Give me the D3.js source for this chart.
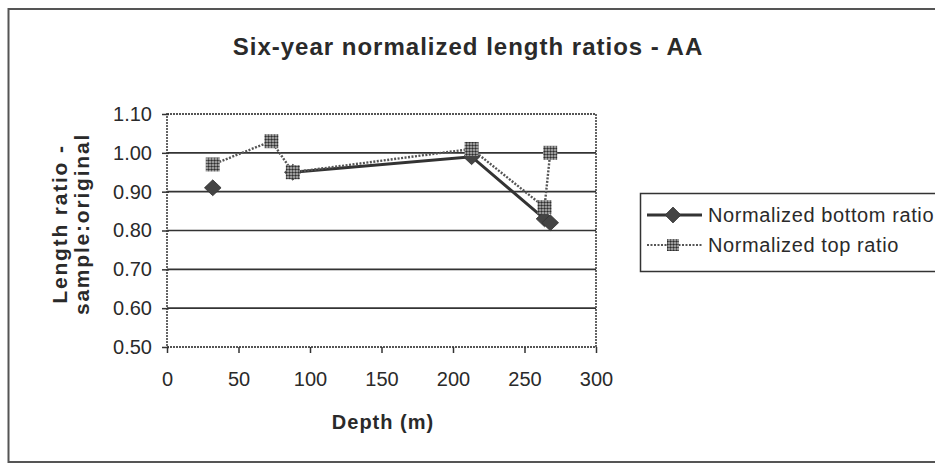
<!DOCTYPE html>
<html>
<head>
<meta charset="utf-8">
<script src="https://cdn.jsdelivr.net/npm/d3@7"></script>
<style>
  html, body { margin: 0; padding: 0; background: #fff; }
  svg { display: block; }
  text { font-family: Arial, "Liberation Sans", Helvetica, sans-serif; fill: #2a2a2a; }
</style>
</head>
<body>
<svg id="chart" width="935" height="466"></svg>
<script>
// ---- data ----
const depths = [32, 73, 88, 213, 264, 268];
const bottomRatio = [0.91, null, 0.95, 0.99, 0.83, 0.82];
const topRatio = [0.97, 1.03, 0.95, 1.01, 0.86, 1.00];
const xTicks = [0, 50, 100, 150, 200, 250, 300];
const yTicks = [0.50, 0.60, 0.70, 0.80, 0.90, 1.00, 1.10];
const seriesNames = ["Normalized bottom ratio", "Normalized top ratio"];
const title = "Six-year normalized length ratios - AA";
const xTitle = "Depth (m)";
const yTitleLines = ["Length ratio -", "sample:original"];

const svg = d3.select("#chart");
const W = 935, H = 466;
const plot = { left: 167, right: 596, top: 114, bottom: 347 };

// pattern for top ratio squares
const defs = svg.append("defs");
const pat = defs.append("pattern").attr("id", "dots")
  .attr("width", 3).attr("height", 3).attr("patternUnits", "userSpaceOnUse");
pat.append("rect").attr("width", 3).attr("height", 3).attr("fill", "#c4c4c4");
pat.append("circle").attr("cx", 1.5).attr("cy", 1.5).attr("r", 1.25).attr("fill", "#2e2e2e");

// outer frame
svg.append("path")
  .attr("d", `M ${W + 5} 9 L 8.5 9 L 8.5 462 L ${W + 5} 462`)
  .attr("fill", "none").attr("stroke", "#555").attr("stroke-width", 2);

// title
svg.append("text").attr("x", 468).attr("y", 55)
  .attr("text-anchor", "middle").attr("font-size", 24).attr("font-weight", "bold")
  .attr("letter-spacing", 1)
  .attr("fill", "#333").text(title);

const x = d3.scaleLinear().domain([0, 300]).range([plot.left, plot.right]);
const y = d3.scaleLinear().domain([0.5, 1.1]).range([plot.bottom, plot.top]);

// gridlines
svg.append("g").selectAll("line").data(yTicks.filter(v => v > 0.5 && v < 1.1)).join("line")
  .attr("x1", plot.left).attr("x2", plot.right)
  .attr("y1", d => y(d)).attr("y2", d => y(d))
  .attr("stroke", "#333").attr("stroke-width", 1.6);

// plot border (dotted look)
svg.append("rect")
  .attr("x", plot.left).attr("y", plot.top)
  .attr("width", plot.right - plot.left).attr("height", plot.bottom - plot.top)
  .attr("fill", "none").attr("stroke", "#555").attr("stroke-width", 1.8)
  .attr("stroke-dasharray", "2,1");

// axes
const xAxis = d3.axisBottom(x).tickValues(xTicks).tickSize(6).tickPadding(19)
  .tickFormat(d3.format("d"));
const gx = svg.append("g").attr("transform", `translate(0,${plot.bottom})`).call(xAxis);
gx.select(".domain").remove();
gx.selectAll(".tick line").attr("stroke", "#333").attr("stroke-width", 1.5);
gx.selectAll(".tick text").attr("font-size", 20).attr("fill", "#2a2a2a")
  .attr("font-family", "Arial, 'Liberation Sans', sans-serif");

const yAxis = d3.axisLeft(y).tickValues(yTicks).tickSize(5).tickPadding(10)
  .tickFormat(d3.format(".2f"));
const gy = svg.append("g").attr("transform", `translate(${plot.left},0)`).call(yAxis);
gy.select(".domain").remove();
gy.selectAll(".tick line").attr("stroke", "#333").attr("stroke-width", 1.5)
  .attr("x1", 2);
gy.selectAll(".tick text").attr("font-size", 20).attr("fill", "#2a2a2a")
  .attr("font-family", "Arial, 'Liberation Sans', sans-serif");

// axis titles
svg.append("text").attr("x", 383).attr("y", 429)
  .attr("text-anchor", "middle").attr("font-size", 20).attr("font-weight", "bold")
  .attr("letter-spacing", 1)
  .attr("fill", "#333").text(xTitle);

const yt = svg.append("text")
  .attr("transform", `translate(0,224) rotate(-90)`)
  .attr("text-anchor", "middle").attr("font-size", 21).attr("font-weight", "bold")
  .attr("letter-spacing", 1.8)
  .attr("fill", "#333");
yt.append("tspan").attr("x", 0).attr("y", 67).text(yTitleLines[0]);
yt.append("tspan").attr("x", 0).attr("y", 89).text(yTitleLines[1]);

// series data
const bottomPts = depths.map((d, i) => ({ x: d, y: bottomRatio[i] }));
const topPts = depths.map((d, i) => ({ x: d, y: topRatio[i] }));

const line = d3.line().defined(d => d.y != null).x(d => x(d.x)).y(d => y(d.y));

// bottom line (solid)
svg.append("path").datum(bottomPts).attr("d", line)
  .attr("fill", "none").attr("stroke", "#333").attr("stroke-width", 3);
// top line (dotted)
svg.append("path").datum(topPts).attr("d", line)
  .attr("fill", "none").attr("stroke", "#555").attr("stroke-width", 2.4)
  .attr("stroke-dasharray", "2,1.5");

const diamond = d3.symbol().type(d3.symbolDiamond2).size(160);
svg.append("g").selectAll("path").data(bottomPts.filter(d => d.y != null)).join("path")
  .attr("d", diamond)
  .attr("transform", d => `translate(${x(d.x)},${y(d.y)}) scale(1.05,1)`)
  .attr("fill", "#444").attr("stroke", "#333").attr("stroke-width", 0.8);

const sq = 14;
svg.append("g").selectAll("rect").data(topPts.filter(d => d.y != null)).join("rect")
  .attr("x", d => x(d.x) - sq / 2).attr("y", d => y(d.y) - sq / 2)
  .attr("width", sq).attr("height", sq)
  .attr("fill", "url(#dots)");

// legend
const lg = svg.append("g");
lg.append("rect").attr("x", 640.5).attr("y", 193.5).attr("width", 320).attr("height", 78)
  .attr("fill", "#fff").attr("stroke", "#333").attr("stroke-width", 1.5);
const rows = [215, 245];
// row 1
lg.append("line").attr("x1", 647).attr("x2", 702).attr("y1", rows[0]).attr("y2", rows[0])
  .attr("stroke", "#333").attr("stroke-width", 3);
lg.append("path").attr("d", diamond)
  .attr("transform", `translate(673,${rows[0]})`)
  .attr("fill", "#444").attr("stroke", "#333").attr("stroke-width", 0.8);
lg.append("text").attr("x", 708).attr("y", rows[0]).attr("dy", "0.36em")
  .attr("font-size", 20).attr("letter-spacing", 0.6).attr("fill", "#2a2a2a").text(seriesNames[0]);
// row 2
lg.append("line").attr("x1", 647).attr("x2", 702).attr("y1", rows[1]).attr("y2", rows[1])
  .attr("stroke", "#555").attr("stroke-width", 2).attr("stroke-dasharray", "2,1.5");
lg.append("rect").attr("x", 667).attr("y", rows[1] - 6).attr("width", 12).attr("height", 12)
  .attr("fill", "url(#dots)");
lg.append("text").attr("x", 708).attr("y", rows[1]).attr("dy", "0.36em")
  .attr("font-size", 20).attr("letter-spacing", 0.6).attr("fill", "#2a2a2a").text(seriesNames[1]);
</script>
</body>
</html>
